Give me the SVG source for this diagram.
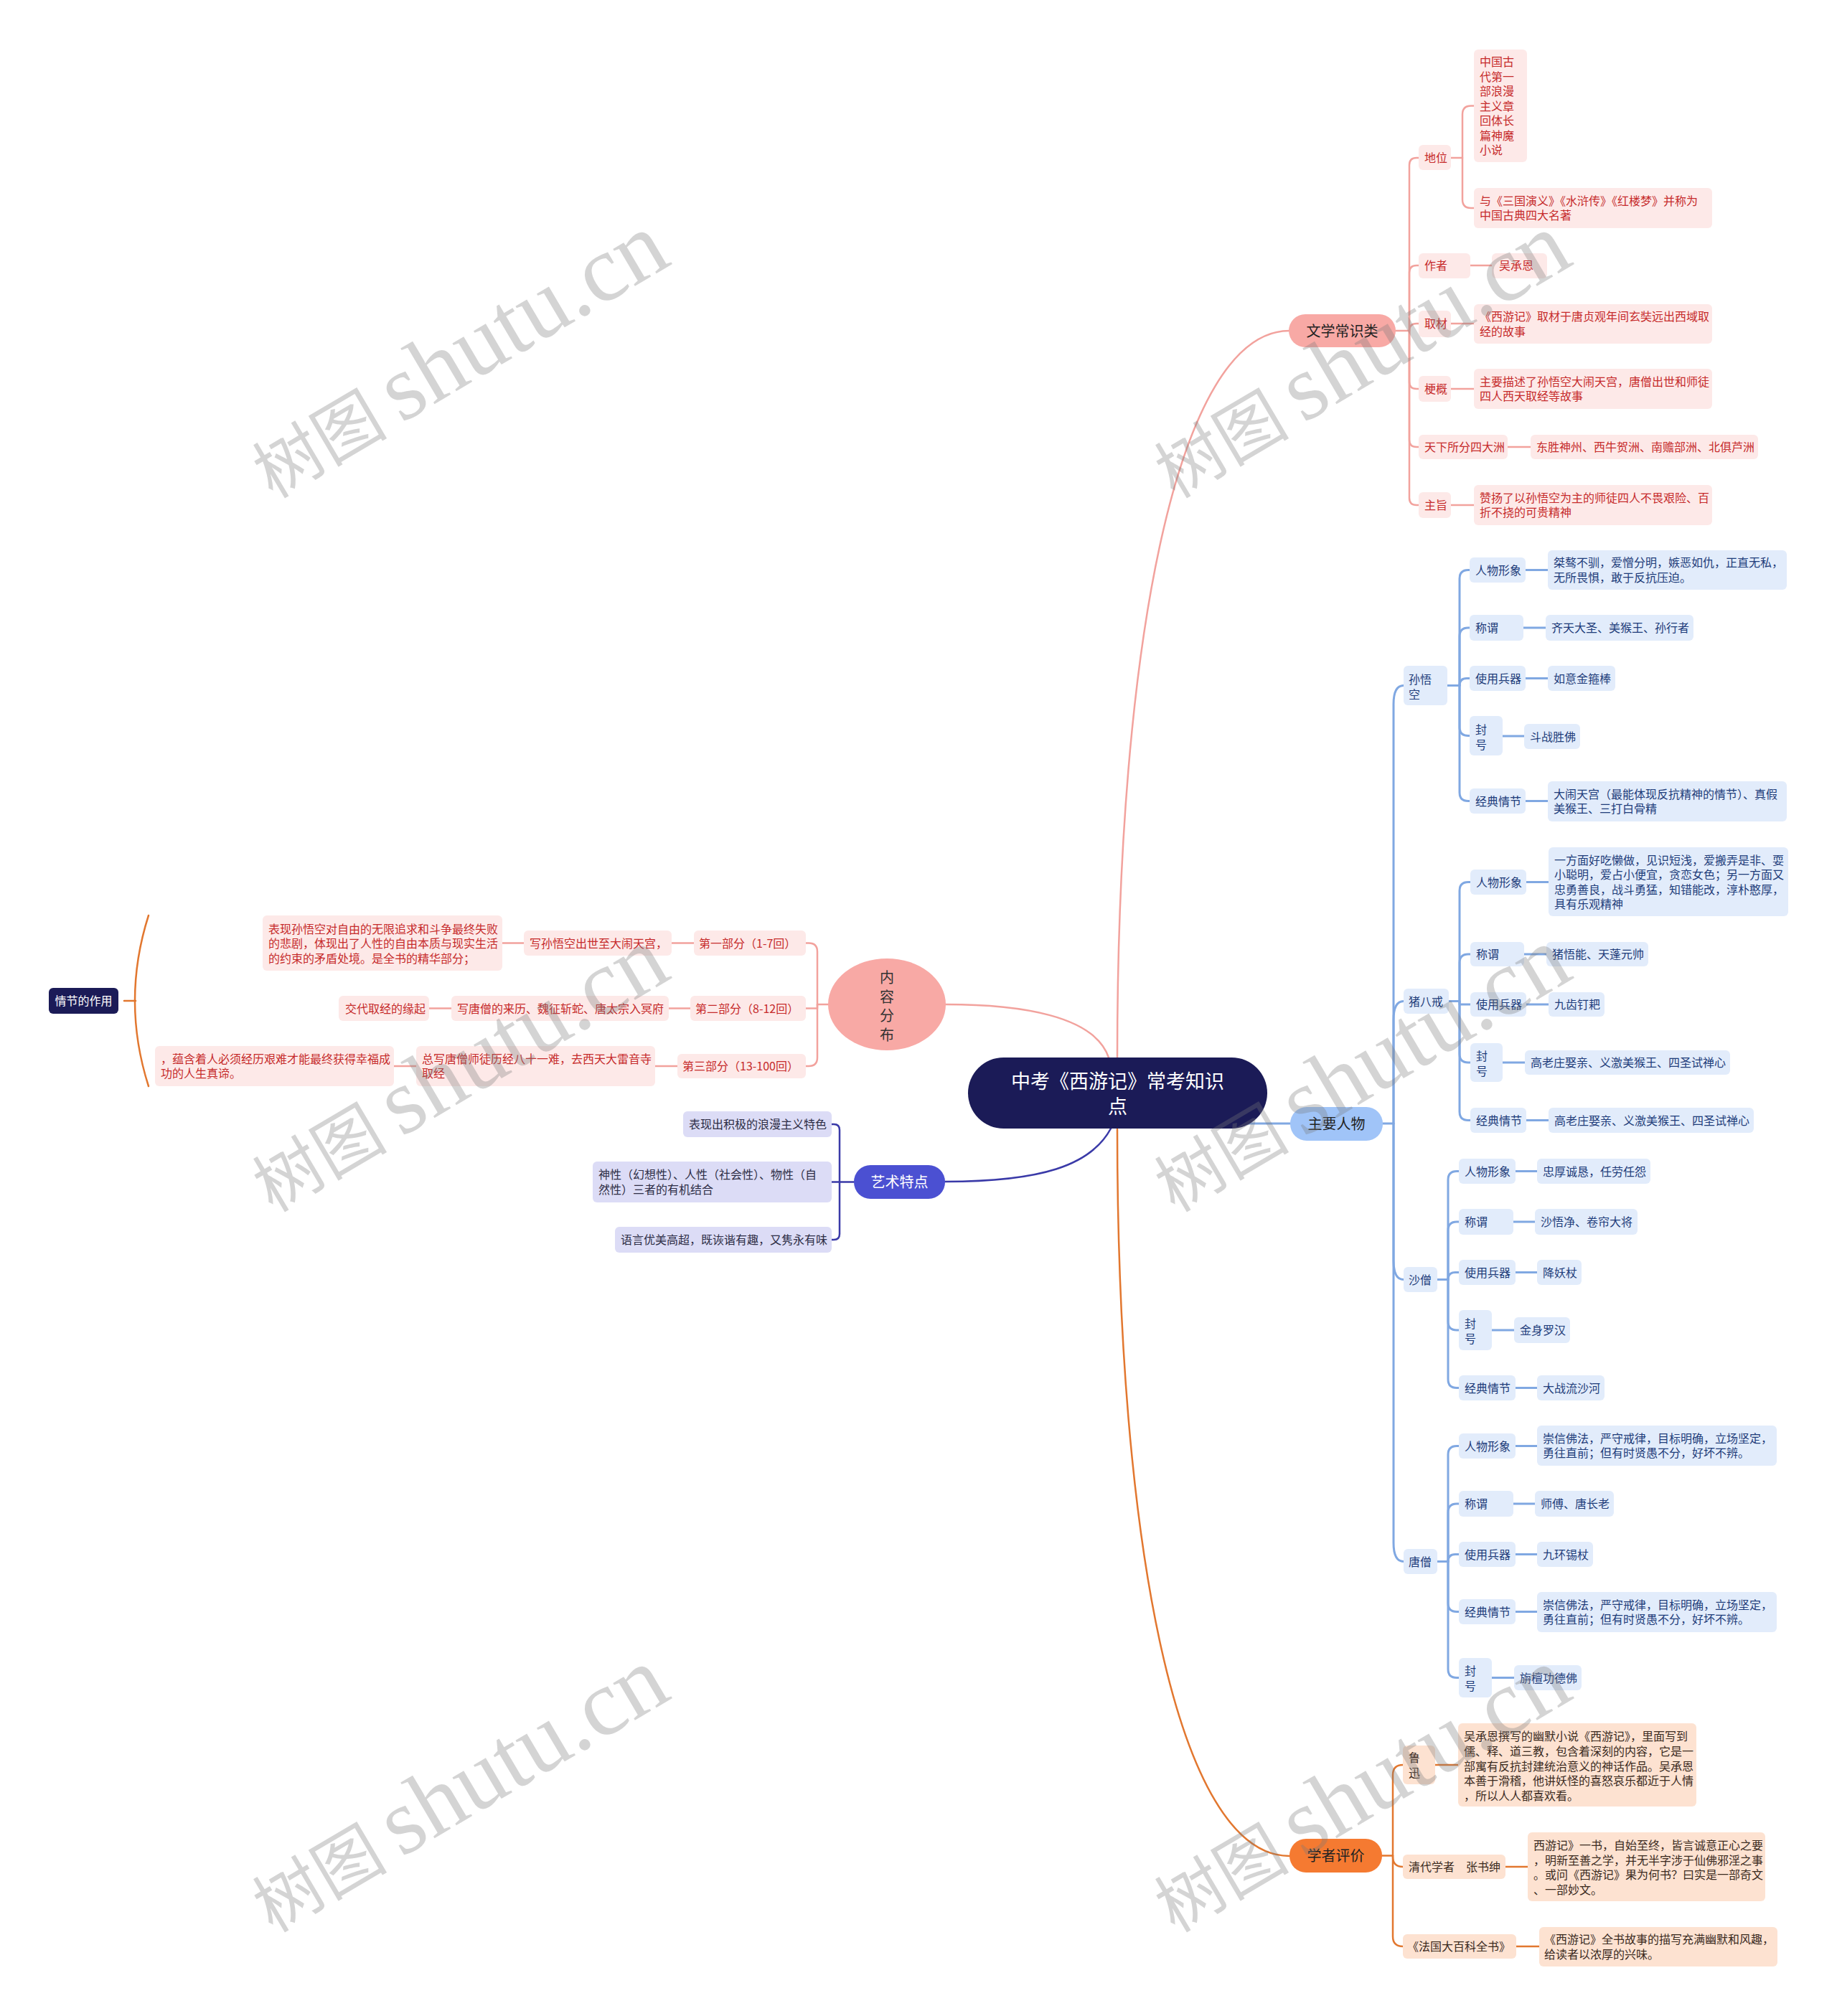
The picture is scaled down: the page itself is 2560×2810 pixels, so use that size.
<svg xmlns="http://www.w3.org/2000/svg" width="2560" height="2810" viewBox="0 0 2560 2810">
<style>
text{font-family:"Noto Sans CJK SC","Liberation Sans",sans-serif;font-size:16px}
.pb{fill:#fde9e8}.pt{fill:#c62b2b}
.bb{fill:#e2ecfb}.bt{fill:#1e3c7a}
.ob{fill:#fde2d1}.ot{fill:#3a2a1e}
.lb{fill:#dcdcf6}.lt{fill:#2d2d45}
.big{font-size:20px;fill:#222}
.cp,.cb,.co,.cv{fill:none;stroke-linecap:round;stroke-linejoin:round}
.cp{stroke:#f2a29d;stroke-width:2.5}
.cb{stroke:#80a8e2;stroke-width:3}
.co{stroke:#e2772f;stroke-width:2.5}
.cv{stroke:#3a3aa8;stroke-width:2.5}
.wm{fill:#7a7a7a;fill-opacity:0.32;font-family:"Liberation Serif","Noto Sans CJK SC",serif}
</style>
<rect width="2560" height="2810" fill="#ffffff"/>
<g id="connectors">
<path class="cp" d="M1557,1474 C1557,900 1640,461 1797,461"/>
<path class="cp" d="M1318,1400 C1420,1400 1525,1415 1545,1474"/>
<path class="co" d="M1557,1574 C1557,2150 1640,2587 1797,2587"/>
<path class="cb" d="M1720,1566 H1798"/>
<path class="cv" d="M1317,1647 C1450,1647 1520,1625 1548,1573"/>
<path class="cp" d="M1945,461 H1964 V230 Q1964,220 1974,220 H1977"/>
<path class="cp" d="M1964,461 V380 Q1964,370 1974,370 H1977"/>
<path class="cp" d="M1964,461 Q1964,451 1974,451 H1977"/>
<path class="cp" d="M1964,461 V532 Q1964,542 1974,542 H1977"/>
<path class="cp" d="M1964,461 V613 Q1964,623 1974,623 H1977"/>
<path class="cp" d="M1964,461 V694 Q1964,704 1974,704 H1977"/>
<path class="cp" d="M2022,220 H2038 V159.5 Q2038,147.5 2050,147.5 H2054"/>
<path class="cp" d="M2038,220 V278 Q2038,290 2050,290 H2054"/>
<path class="cp" d="M2049,370 H2079"/>
<path class="cp" d="M2022,451 H2054"/>
<path class="cp" d="M2022,542 H2054"/>
<path class="cp" d="M2101,623 H2133"/>
<path class="cp" d="M2022,704 H2054"/>
<path class="cb" d="M1927,1566 H1942 V981.5 Q1942,955.5 1956,955.5"/>
<path class="cb" d="M1942,1566 V1421.5 Q1942,1395.5 1956,1395.5"/>
<path class="cb" d="M1942,1566 V1757.5 Q1942,1783.5 1956,1783.5"/>
<path class="cb" d="M1942,1566 V2150.5 Q1942,2176.5 1956,2176.5"/>
<path class="cb" d="M2017,955.5 H2034 V806.5 Q2034,794.5 2046,794.5 H2048"/>
<path class="cb" d="M2034,955.5 V887 Q2034,875 2046,875 H2048"/>
<path class="cb" d="M2034,955.5 Q2034,945.5 2044,945.5 H2048"/>
<path class="cb" d="M2034,955.5 V1013.5 Q2034,1025.5 2046,1025.5 H2048"/>
<path class="cb" d="M2034,955.5 V1104.5 Q2034,1116.5 2046,1116.5 H2048"/>
<path class="cb" d="M2126,794.5 H2157 M2123,875 H2154 M2126,945.5 H2157 M2094,1026 H2124 M2126,1116.5 H2157"/>
<path class="cb" d="M2019,1395.5 H2034 V1241.5 Q2034,1229.5 2046,1229.5 H2049"/>
<path class="cb" d="M2034,1395.5 V1342 Q2034,1330 2046,1330 H2049"/>
<path class="cb" d="M2034,1395.5 V1400 H2049"/>
<path class="cb" d="M2034,1395.5 V1469 Q2034,1481 2046,1481 H2049"/>
<path class="cb" d="M2034,1395.5 V1549.5 Q2034,1561.5 2046,1561.5 H2049"/>
<path class="cb" d="M2127,1229.5 H2158 M2124,1330 H2155 M2127,1400 H2158 M2094,1481 H2125 M2127,1561.5 H2158"/>
<path class="cb" d="M2003,1783.5 H2018 V1644.5 Q2018,1632.5 2030,1632.5 H2033"/>
<path class="cb" d="M2018,1783.5 V1715 Q2018,1703 2030,1703 H2033"/>
<path class="cb" d="M2018,1783.5 Q2018,1773.5 2028,1773.5 H2033"/>
<path class="cb" d="M2018,1783.5 V1842 Q2018,1854 2030,1854 H2033"/>
<path class="cb" d="M2018,1783.5 V1922.5 Q2018,1934.5 2030,1934.5 H2033"/>
<path class="cb" d="M2112,1632.5 H2142 M2109,1703 H2139 M2112,1773.5 H2142 M2079,1854 H2110 M2112,1934.5 H2142"/>
<path class="cb" d="M2003,2176.5 H2018 V2027.5 Q2018,2015.5 2030,2015.5 H2033"/>
<path class="cb" d="M2018,2176.5 V2108 Q2018,2096 2030,2096 H2033"/>
<path class="cb" d="M2018,2176.5 Q2018,2166.5 2028,2166.5 H2033"/>
<path class="cb" d="M2018,2176.5 V2234.5 Q2018,2246.5 2030,2246.5 H2033"/>
<path class="cb" d="M2018,2176.5 V2326.5 Q2018,2338.5 2030,2338.5 H2033"/>
<path class="cb" d="M2112,2015.5 H2142 M2109,2096 H2139 M2112,2166.5 H2142 M2112,2246.5 H2142 M2079,2338.5 H2110"/>
<path class="co" d="M1926,2586.5 H1941 V2474 Q1941,2460 1955,2460"/>
<path class="co" d="M1941,2586.5 V2588 Q1941,2602 1955,2602"/>
<path class="co" d="M1941,2586.5 V2699 Q1941,2713 1955,2713"/>
<path class="co" d="M2000,2460 H2032 M2098,2602 H2129 M2113,2713 H2145"/>
<path class="cp" d="M1154,1400 H1139 V1326.5 Q1139,1314.5 1127,1314.5 H1123"/>
<path class="cp" d="M1139,1400 V1405.5 H1123"/>
<path class="cp" d="M1139,1400 V1474 Q1139,1486 1127,1486 H1123"/>
<path class="cp" d="M967,1314.5 H936 M962,1405.5 H932 M944,1486 H913 M730,1314.5 H700 M629,1405.5 H598 M580,1486 H549"/>
<path class="co" d="M207,1276 Q169,1395 207,1514"/>
<path class="co" d="M173,1395 H189"/>
<path class="cv" d="M1190,1647.5 H1170 V1575 Q1170,1567 1162,1567 H1159"/>
<path class="cv" d="M1170,1647.5 H1159"/>
<path class="cv" d="M1170,1647.5 V1720 Q1170,1728 1162,1728 H1159"/>
</g>
<g id="center">
<rect x="1349" y="1474" width="417" height="99" rx="49.5" fill="#1b1b57"/>
<text x="1557.5" y="1517" text-anchor="middle" style="font-size:27px;fill:#fff">中考《西游记》常考知识</text>
<text x="1557.5" y="1552" text-anchor="middle" style="font-size:27px;fill:#fff">点</text>
</g>
<g id="n-wenxue">
<rect x="1796" y="438" width="149" height="46" rx="23" fill="#f8a9a5"/>
<text class="big" x="1870.5" y="469" text-anchor="middle">文学常识类</text>
</g>
<g id="n-diwei"><rect class="pb" x="1977" y="202" width="45" height="35" rx="6"/><text class="pt" x="1985" y="226">地位</text></g>
<g id="n-diwei-1"><rect class="pb" x="2054" y="69" width="74" height="157" rx="6"/>
<text class="pt" x="2062" y="92">中国古</text><text class="pt" x="2062" y="112.5">代第一</text><text class="pt" x="2062" y="133">部浪漫</text><text class="pt" x="2062" y="153.5">主义章</text><text class="pt" x="2062" y="174">回体长</text><text class="pt" x="2062" y="194.5">篇神魔</text><text class="pt" x="2062" y="215">小说</text></g>
<g id="n-diwei-2"><rect class="pb" x="2054" y="262" width="332" height="56" rx="6"/>
<text class="pt" x="2062" y="285.75">与《三国演义》《水浒传》《红楼梦》并称为</text><text class="pt" x="2062" y="306.25">中国古典四大名著</text></g>
<g id="n-zuozhe"><rect class="pb" x="1977" y="353" width="72" height="35" rx="6"/><text class="pt" x="1985" y="376">作者</text></g>
<g id="n-wuchengen"><rect class="pb" x="2079" y="353" width="77" height="35" rx="6"/><text class="pt" x="2089" y="376">吴承恩</text></g>
<g id="n-qucai"><rect class="pb" x="1977" y="433" width="45" height="37" rx="6"/><text class="pt" x="1985" y="457">取材</text></g>
<g id="n-qucai-1"><rect class="pb" x="2054" y="424" width="332" height="55" rx="6"/>
<text class="pt" x="2062" y="447.25">《西游记》取材于唐贞观年间玄奘远出西域取</text><text class="pt" x="2062" y="467.75">经的故事</text></g>
<g id="n-genggai"><rect class="pb" x="1977" y="524" width="45" height="36" rx="6"/><text class="pt" x="1985" y="548">梗概</text></g>
<g id="n-genggai-1"><rect class="pb" x="2054" y="514" width="332" height="56" rx="6"/>
<text class="pt" x="2062" y="537.75">主要描述了孙悟空大闹天宫，唐僧出世和师徒</text><text class="pt" x="2062" y="558.25">四人西天取经等故事</text></g>
<g id="n-sizhou"><rect class="pb" x="1977" y="606" width="124" height="34" rx="6"/><text class="pt" x="1985" y="629">天下所分四大洲</text></g>
<g id="n-sizhou-1"><rect class="pb" x="2133" y="606" width="317" height="34" rx="6"/><text class="pt" x="2141" y="629">东胜神州、西牛贺洲、南赡部洲、北俱芦洲</text></g>
<g id="n-zhuzhi"><rect class="pb" x="1977" y="686" width="45" height="36" rx="6"/><text class="pt" x="1985" y="710">主旨</text></g>
<g id="n-zhuzhi-1"><rect class="pb" x="2054" y="676" width="332" height="56" rx="6"/>
<text class="pt" x="2062" y="699.75">赞扬了以孙悟空为主的师徒四人不畏艰险、百</text><text class="pt" x="2062" y="720.25">折不挠的可贵精神</text></g>
<g id="n-renwu">
<rect x="1798" y="1543" width="129" height="47" rx="23" fill="#a0c4f8"/>
<text class="big" x="1862.5" y="1574" text-anchor="middle">主要人物</text>
</g>
<g id="n-swk"><rect class="bb" x="1956" y="928" width="61" height="55" rx="6"/><text class="bt" x="1963" y="953">孙悟</text><text class="bt" x="1963" y="974">空</text></g>
<g id="n-swk-xx"><rect class="bb" x="2048" y="777" width="78" height="35" rx="6"/><text class="bt" x="2056" y="800.5">人物形象</text></g>
<g id="n-swk-xx1"><rect class="bb" x="2157" y="767" width="333" height="55" rx="6"/><text class="bt" x="2165" y="790.25">桀骜不驯，爱憎分明，嫉恶如仇，正直无私，</text><text class="bt" x="2165" y="810.75">无所畏惧，敢于反抗压迫。</text></g>
<g id="n-swk-cw"><rect class="bb" x="2048" y="857" width="75" height="36" rx="6"/><text class="bt" x="2056" y="881">称谓</text></g>
<g id="n-swk-cw1"><rect class="bb" x="2154" y="857" width="206" height="36" rx="6"/><text class="bt" x="2162" y="881">齐天大圣、美猴王、孙行者</text></g>
<g id="n-swk-bq"><rect class="bb" x="2048" y="928" width="78" height="35" rx="6"/><text class="bt" x="2056" y="951.5">使用兵器</text></g>
<g id="n-swk-bq1"><rect class="bb" x="2157" y="928" width="94" height="35" rx="6"/><text class="bt" x="2165" y="951.5">如意金箍棒</text></g>
<g id="n-swk-fh"><rect class="bb" x="2048" y="998" width="46" height="55" rx="6"/><text class="bt" x="2056" y="1023">封</text><text class="bt" x="2056" y="1043.5">号</text></g>
<g id="n-swk-fh1"><rect class="bb" x="2124" y="1009" width="78" height="35" rx="6"/><text class="bt" x="2132" y="1032.5">斗战胜佛</text></g>
<g id="n-swk-qj"><rect class="bb" x="2048" y="1099" width="78" height="35" rx="6"/><text class="bt" x="2056" y="1122.5">经典情节</text></g>
<g id="n-swk-qj1"><rect class="bb" x="2157" y="1089" width="333" height="56" rx="6"/><text class="bt" x="2165" y="1112.75">大闹天宫（最能体现反抗精神的情节）、真假</text><text class="bt" x="2165" y="1133.25">美猴王、三打白骨精</text></g>
<g id="n-zbj"><rect class="bb" x="1956" y="1378" width="63" height="35" rx="6"/><text class="bt" x="1963" y="1401.5">猪八戒</text></g>
<g id="n-zbj-xx"><rect class="bb" x="2049" y="1212" width="78" height="35" rx="6"/><text class="bt" x="2057" y="1235.5">人物形象</text></g>
<g id="n-zbj-xx1"><rect class="bb" x="2158" y="1181" width="334" height="96" rx="6"/>
<text class="bt" x="2166" y="1204.5">一方面好吃懒做，见识短浅，爱搬弄是非、耍</text><text class="bt" x="2166" y="1225">小聪明，爱占小便宜，贪恋女色；另一方面又</text><text class="bt" x="2166" y="1245.5">忠勇善良，战斗勇猛，知错能改，淳朴憨厚，</text><text class="bt" x="2166" y="1266">具有乐观精神</text></g>
<g id="n-zbj-cw"><rect class="bb" x="2049" y="1313" width="75" height="34" rx="6"/><text class="bt" x="2057" y="1336">称谓</text></g>
<g id="n-zbj-cw1"><rect class="bb" x="2155" y="1313" width="142" height="34" rx="6"/><text class="bt" x="2163" y="1336">猪悟能、天蓬元帅</text></g>
<g id="n-zbj-bq"><rect class="bb" x="2049" y="1383" width="78" height="34" rx="6"/><text class="bt" x="2057" y="1406">使用兵器</text></g>
<g id="n-zbj-bq1"><rect class="bb" x="2158" y="1383" width="78" height="34" rx="6"/><text class="bt" x="2166" y="1406">九齿钉耙</text></g>
<g id="n-zbj-fh"><rect class="bb" x="2049" y="1454" width="45" height="54" rx="6"/><text class="bt" x="2057" y="1478">封</text><text class="bt" x="2057" y="1498.5">号</text></g>
<g id="n-zbj-fh1"><rect class="bb" x="2125" y="1464" width="286" height="34" rx="6"/><text class="bt" x="2133" y="1487">高老庄娶亲、义激美猴王、四圣试禅心</text></g>
<g id="n-zbj-qj"><rect class="bb" x="2049" y="1544" width="78" height="35" rx="6"/><text class="bt" x="2057" y="1567.5">经典情节</text></g>
<g id="n-zbj-qj1"><rect class="bb" x="2158" y="1544" width="286" height="35" rx="6"/><text class="bt" x="2166" y="1567.5">高老庄娶亲、义激美猴王、四圣试禅心</text></g>
<g id="n-ss"><rect class="bb" x="1956" y="1766" width="47" height="35" rx="6"/><text class="bt" x="1963" y="1789.5">沙僧</text></g>
<g id="n-ss-xx"><rect class="bb" x="2033" y="1615" width="79" height="35" rx="6"/><text class="bt" x="2041" y="1638.5">人物形象</text></g>
<g id="n-ss-xx1"><rect class="bb" x="2142" y="1615" width="158" height="35" rx="6"/><text class="bt" x="2150" y="1638.5">忠厚诚恳，任劳任怨</text></g>
<g id="n-ss-cw"><rect class="bb" x="2033" y="1685" width="76" height="36" rx="6"/><text class="bt" x="2041" y="1709">称谓</text></g>
<g id="n-ss-cw1"><rect class="bb" x="2139" y="1685" width="143" height="36" rx="6"/><text class="bt" x="2147" y="1709">沙悟净、卷帘大将</text></g>
<g id="n-ss-bq"><rect class="bb" x="2033" y="1756" width="79" height="35" rx="6"/><text class="bt" x="2041" y="1779.5">使用兵器</text></g>
<g id="n-ss-bq1"><rect class="bb" x="2142" y="1756" width="62" height="35" rx="6"/><text class="bt" x="2150" y="1779.5">降妖杖</text></g>
<g id="n-ss-fh"><rect class="bb" x="2033" y="1826" width="46" height="56" rx="6"/><text class="bt" x="2041" y="1851">封</text><text class="bt" x="2041" y="1871.5">号</text></g>
<g id="n-ss-fh1"><rect class="bb" x="2110" y="1836" width="78" height="36" rx="6"/><text class="bt" x="2118" y="1860">金身罗汉</text></g>
<g id="n-ss-qj"><rect class="bb" x="2033" y="1917" width="79" height="35" rx="6"/><text class="bt" x="2041" y="1940.5">经典情节</text></g>
<g id="n-ss-qj1"><rect class="bb" x="2142" y="1917" width="94" height="35" rx="6"/><text class="bt" x="2150" y="1940.5">大战流沙河</text></g>
<g id="n-ts"><rect class="bb" x="1956" y="2159" width="47" height="35" rx="6"/><text class="bt" x="1963" y="2182.5">唐僧</text></g>
<g id="n-ts-xx"><rect class="bb" x="2033" y="1998" width="79" height="35" rx="6"/><text class="bt" x="2041" y="2021.5">人物形象</text></g>
<g id="n-ts-xx1"><rect class="bb" x="2142" y="1987" width="334" height="56" rx="6"/><text class="bt" x="2150" y="2010.75">崇信佛法，严守戒律，目标明确，立场坚定，</text><text class="bt" x="2150" y="2031.25">勇往直前；但有时贤愚不分，好坏不辨。</text></g>
<g id="n-ts-cw"><rect class="bb" x="2033" y="2078" width="76" height="36" rx="6"/><text class="bt" x="2041" y="2102">称谓</text></g>
<g id="n-ts-cw1"><rect class="bb" x="2139" y="2078" width="110" height="36" rx="6"/><text class="bt" x="2147" y="2102">师傅、唐长老</text></g>
<g id="n-ts-bq"><rect class="bb" x="2033" y="2149" width="79" height="35" rx="6"/><text class="bt" x="2041" y="2172.5">使用兵器</text></g>
<g id="n-ts-bq1"><rect class="bb" x="2142" y="2149" width="78" height="35" rx="6"/><text class="bt" x="2150" y="2172.5">九环锡杖</text></g>
<g id="n-ts-qj"><rect class="bb" x="2033" y="2229" width="79" height="35" rx="6"/><text class="bt" x="2041" y="2252.5">经典情节</text></g>
<g id="n-ts-qj1"><rect class="bb" x="2142" y="2219" width="334" height="56" rx="6"/><text class="bt" x="2150" y="2242.75">崇信佛法，严守戒律，目标明确，立场坚定，</text><text class="bt" x="2150" y="2263.25">勇往直前；但有时贤愚不分，好坏不辨。</text></g>
<g id="n-ts-fh"><rect class="bb" x="2033" y="2311" width="46" height="55" rx="6"/><text class="bt" x="2041" y="2335">封</text><text class="bt" x="2041" y="2355.5">号</text></g>
<g id="n-ts-fh1"><rect class="bb" x="2110" y="2321" width="94" height="35" rx="6"/><text class="bt" x="2118" y="2344.5">旃檀功德佛</text></g>
<g id="n-pingjia">
<rect x="1797" y="2563" width="129" height="47" rx="23" fill="#f57a31"/>
<text class="big" x="1861.5" y="2594" text-anchor="middle">学者评价</text>
</g>
<g id="n-luxun"><rect class="ob" x="1955" y="2433" width="45" height="54" rx="6"/><text class="ot" x="1963" y="2456">鲁</text><text class="ot" x="1963" y="2476.5">迅</text></g>
<g id="n-luxun-1"><rect class="ob" x="2032" y="2402" width="332" height="116" rx="6"/>
<text class="ot" x="2040" y="2426">吴承恩撰写的幽默小说《西游记》，里面写到</text><text class="ot" x="2040" y="2446.75">儒、释、道三教，包含着深刻的内容，它是一</text><text class="ot" x="2040" y="2467.5">部寓有反抗封建统治意义的神话作品。吴承恩</text><text class="ot" x="2040" y="2488.25">本善于滑稽，他讲妖怪的喜怒哀乐都近于人情</text><text class="ot" x="2040" y="2509">，所以人人都喜欢看。</text></g>
<g id="n-zhang"><rect class="ob" x="1955" y="2585" width="143" height="34" rx="6"/><text class="ot" x="1963" y="2608">清代学者　张书绅</text></g>
<g id="n-zhang-1"><rect class="ob" x="2129" y="2554" width="331" height="96" rx="6"/>
<text class="ot" x="2137" y="2578">西游记》一书，自始至终，皆言诚意正心之要</text><text class="ot" x="2137" y="2598.5">，明新至善之学，并无半字涉于仙佛邪淫之事</text><text class="ot" x="2137" y="2619">。或问《西游记》果为何书？曰实是一部奇文</text><text class="ot" x="2137" y="2639.5">、一部妙文。</text></g>
<g id="n-faguo"><rect class="ob" x="1955" y="2696" width="158" height="34" rx="6"/><text class="ot" x="1961" y="2719">《法国大百科全书》</text></g>
<g id="n-faguo-1"><rect class="ob" x="2145" y="2686" width="332" height="55" rx="6"/>
<text class="ot" x="2152" y="2709.25">《西游记》全书故事的描写充满幽默和风趣，</text><text class="ot" x="2152" y="2729.75">给读者以浓厚的兴味。</text></g>
<g id="n-neirong">
<ellipse cx="1236" cy="1400" rx="82" ry="64" fill="#f8a9a5"/>
<text x="1236" y="1370" text-anchor="middle" style="font-size:20px;fill:#333">内</text>
<text x="1236" y="1396.5" text-anchor="middle" style="font-size:20px;fill:#333">容</text>
<text x="1236" y="1423" text-anchor="middle" style="font-size:20px;fill:#333">分</text>
<text x="1236" y="1449.5" text-anchor="middle" style="font-size:20px;fill:#333">布</text>
</g>
<g id="n-p1"><rect class="pb" x="967" y="1297" width="156" height="35" rx="6"/><text class="pt" x="974" y="1320.5">第一部分（1-7回）</text></g>
<g id="n-p2"><rect class="pb" x="962" y="1388" width="161" height="35" rx="6"/><text class="pt" x="969" y="1411.5">第二部分（8-12回）</text></g>
<g id="n-p3"><rect class="pb" x="944" y="1469" width="179" height="34" rx="6"/><text class="pt" x="951" y="1492">第三部分（13-100回）</text></g>
<g id="n-p1-a"><rect class="pb" x="730" y="1297" width="206" height="35" rx="6"/><text class="pt" x="738" y="1320.5">写孙悟空出世至大闹天宫，</text></g>
<g id="n-p2-a"><rect class="pb" x="629" y="1388" width="303" height="35" rx="6"/><text class="pt" x="637" y="1411.5">写唐僧的来历、魏征斩蛇、唐太宗入冥府</text></g>
<g id="n-p3-a"><rect class="pb" x="580" y="1458" width="333" height="56" rx="6"/><text class="pt" x="588" y="1481.75">总写唐僧师徒历经八十一难，去西天大雷音寺</text><text class="pt" x="588" y="1502.25">取经</text></g>
<g id="n-p1-b"><rect class="pb" x="366" y="1276" width="334" height="77" rx="6"/>
<text class="pt" x="374" y="1300.5">表现孙悟空对自由的无限追求和斗争最终失败</text><text class="pt" x="374" y="1321">的悲剧，体现出了人性的自由本质与现实生活</text><text class="pt" x="374" y="1341.5">的约束的矛盾处境。是全书的精华部分；</text></g>
<g id="n-p2-b"><rect class="pb" x="472" y="1388" width="126" height="35" rx="6"/><text class="pt" x="481" y="1411.5">交代取经的缘起</text></g>
<g id="n-p3-b"><rect class="pb" x="216" y="1458" width="333" height="56" rx="6"/><text class="pt" x="224" y="1481.75">，蕴含着人必须经历艰难才能最终获得幸福成</text><text class="pt" x="224" y="1502.25">功的人生真谛。</text></g>
<g id="n-zuoyong"><rect x="68" y="1377" width="97" height="36" rx="6" fill="#1b1b57"/><text x="116.5" y="1401" text-anchor="middle" style="fill:#fff">情节的作用</text></g>
<g id="n-yishu">
<rect x="1190" y="1624" width="127" height="47" rx="23" fill="#4b50d2"/>
<text x="1253.5" y="1655" text-anchor="middle" style="font-size:20px;fill:#fff">艺术特点</text>
</g>
<g id="n-ys1"><rect class="lb" x="952" y="1549" width="207" height="36" rx="6"/><text class="lt" x="960" y="1573">表现出积极的浪漫主义特色</text></g>
<g id="n-ys2"><rect class="lb" x="826" y="1619" width="333" height="57" rx="6"/><text class="lt" x="834" y="1643.25">神性（幻想性）、人性（社会性）、物性（自</text><text class="lt" x="834" y="1663.75">然性）三者的有机结合</text></g>
<g id="n-ys3"><rect class="lb" x="857" y="1710" width="302" height="36" rx="6"/><text class="lt" x="865" y="1734">语言优美高超，既诙谐有趣，又隽永有味</text></g>
<g id="watermarks">
<text class="wm" transform="translate(380,696) rotate(-30.5)" style="font-size:94px">树图<tspan dx="20" style="font-size:131px">shutu.cn</tspan></text>
<text class="wm" transform="translate(1637,696) rotate(-30.5)" style="font-size:94px">树图<tspan dx="20" style="font-size:131px">shutu.cn</tspan></text>
<text class="wm" transform="translate(380,1691) rotate(-30.5)" style="font-size:94px">树图<tspan dx="20" style="font-size:131px">shutu.cn</tspan></text>
<text class="wm" transform="translate(1637,1691) rotate(-30.5)" style="font-size:94px">树图<tspan dx="20" style="font-size:131px">shutu.cn</tspan></text>
<text class="wm" transform="translate(380,2695) rotate(-30.5)" style="font-size:94px">树图<tspan dx="20" style="font-size:131px">shutu.cn</tspan></text>
<text class="wm" transform="translate(1637,2695) rotate(-30.5)" style="font-size:94px">树图<tspan dx="20" style="font-size:131px">shutu.cn</tspan></text>
</g>
</svg>
